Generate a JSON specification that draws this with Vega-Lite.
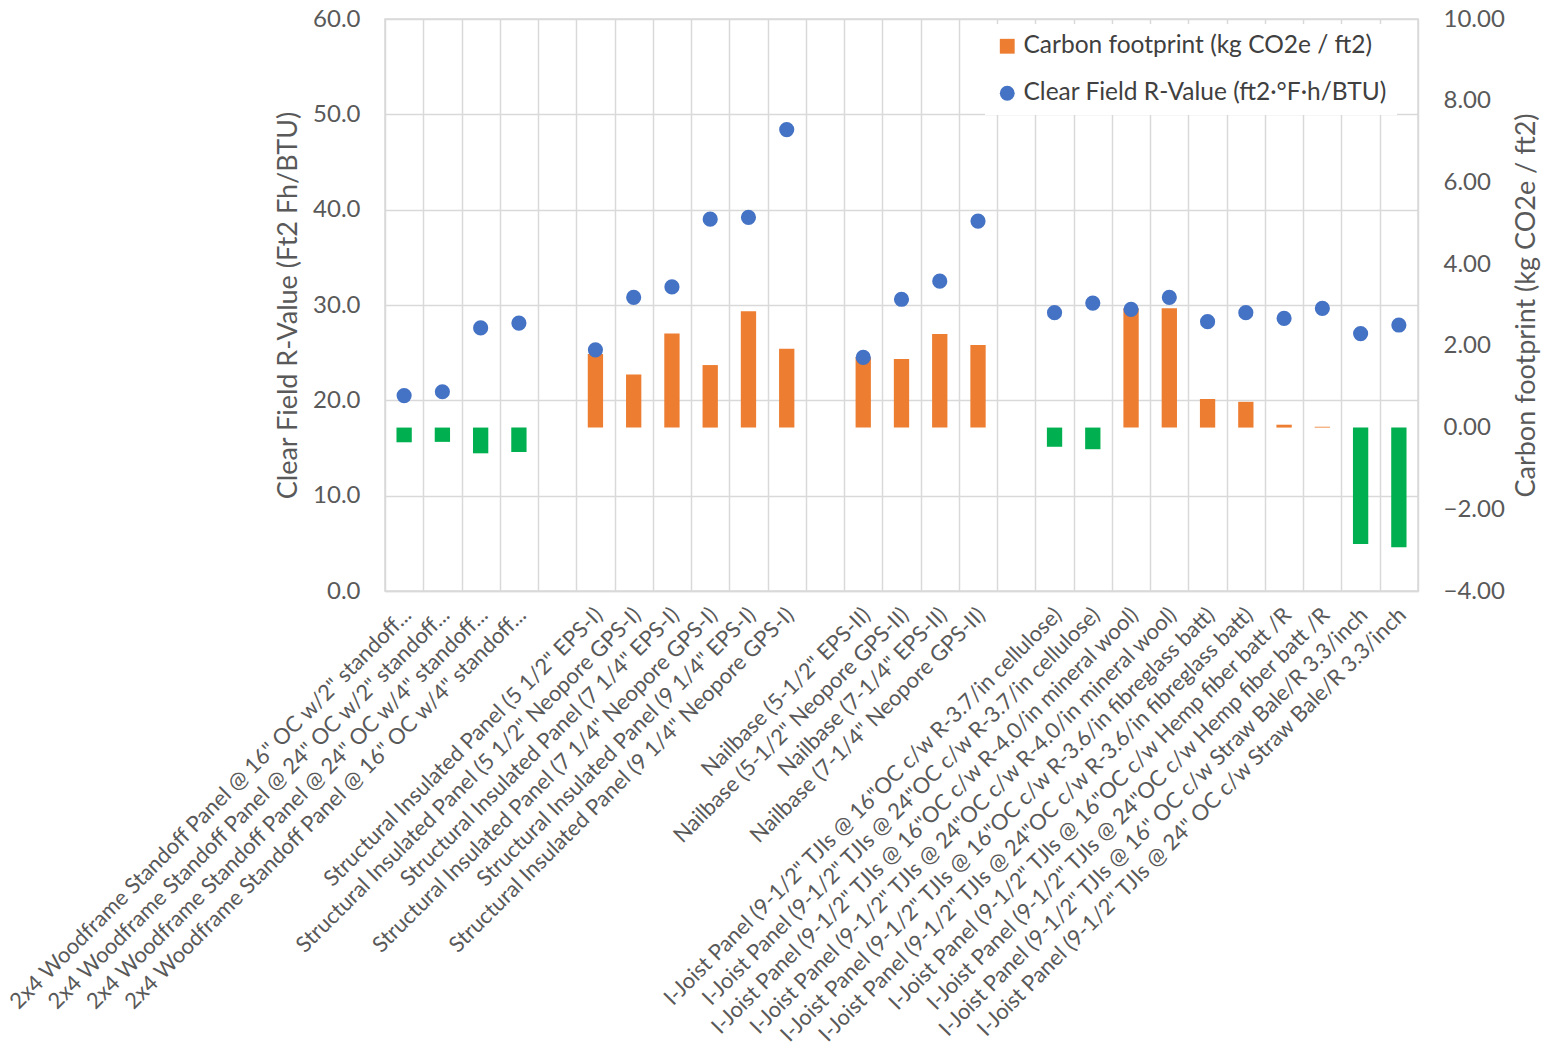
{
  "$schema": "https://vega.github.io/schema/vega-lite/v6.json",
  "width": 1033,
  "height": 572,
  "autosize": {"type": "none"},
  "padding": {"left": 385, "top": 19, "right": 137, "bottom": 460},
  "background": "white",
  "config": {
    "font": "Lato",
    "view": {"stroke": "#d9d9d9", "strokeWidth": 1.5},
    "axis": {"labelColor": "#595959", "titleColor": "#595959", "labelFont": "Lato", "titleFont": "Lato", "titleFontWeight": "normal", "gridColor": "#d9d9d9", "gridWidth": 1.5}
  },
  "data": {
    "values": [
      {"name": "2x4 Woodframe Standoff Panel @ 16\" OC w/2\" standoff...", "rvalue": 20.5, "carbon": -0.36},
      {"name": "2x4 Woodframe Standoff Panel @ 24\" OC w/2\" standoff...", "rvalue": 20.9, "carbon": -0.35},
      {"name": "2x4 Woodframe Standoff Panel @ 24\" OC w/4\" standoff...", "rvalue": 27.6, "carbon": -0.63},
      {"name": "2x4 Woodframe Standoff Panel @ 16\" OC w/4\" standoff...", "rvalue": 28.1, "carbon": -0.6},
      {"name": "Structural Insulated Panel (5 1/2\" EPS-I)", "rvalue": 25.3, "carbon": 1.8},
      {"name": "Structural Insulated Panel (5 1/2\" Neopore GPS-I)", "rvalue": 30.8, "carbon": 1.3},
      {"name": "Structural Insulated Panel (7 1/4\" EPS-I)", "rvalue": 31.9, "carbon": 2.3},
      {"name": "Structural Insulated Panel (7 1/4\" Neopore GPS-I)", "rvalue": 39.0, "carbon": 1.53},
      {"name": "Structural Insulated Panel (9 1/4\" EPS-I)", "rvalue": 39.2, "carbon": 2.85},
      {"name": "Structural Insulated Panel (9 1/4\" Neopore GPS-I)", "rvalue": 48.4, "carbon": 1.93},
      {"name": "Nailbase (5-1/2\" EPS-II)", "rvalue": 24.5, "carbon": 1.73},
      {"name": "Nailbase (5-1/2\" Neopore GPS-II)", "rvalue": 30.6, "carbon": 1.68},
      {"name": "Nailbase (7-1/4\" EPS-II)", "rvalue": 32.5, "carbon": 2.29},
      {"name": "Nailbase (7-1/4\" Neopore GPS-II)", "rvalue": 38.8, "carbon": 2.02},
      {"name": "I-Joist Panel (9-1/2\" TJIs @ 16\"OC c/w R-3.7/in cellulose)", "rvalue": 29.2, "carbon": -0.47},
      {"name": "I-Joist Panel (9-1/2\" TJIs @ 24\"OC c/w R-3.7/in cellulose)", "rvalue": 30.2, "carbon": -0.53},
      {"name": "I-Joist Panel (9-1/2\" TJIs @ 16\"OC c/w R-4.0/in mineral wool)", "rvalue": 29.55, "carbon": 2.92},
      {"name": "I-Joist Panel (9-1/2\" TJIs @ 24\"OC c/w R-4.0/in mineral wool)", "rvalue": 30.8, "carbon": 2.92},
      {"name": "I-Joist Panel (9-1/2\" TJIs @ 16\"OC c/w R-3.6/in fibreglass batt)", "rvalue": 28.25, "carbon": 0.7},
      {"name": "I-Joist Panel (9-1/2\" TJIs @ 24\"OC c/w R-3.6/in fibreglass batt)", "rvalue": 29.2, "carbon": 0.63},
      {"name": "I-Joist Panel (9-1/2\" TJIs @ 16\"OC c/w Hemp fiber batt /R", "rvalue": 28.6, "carbon": 0.07},
      {"name": "I-Joist Panel (9-1/2\" TJIs @ 24\"OC c/w Hemp fiber batt /R", "rvalue": 29.65, "carbon": 0.02},
      {"name": "I-Joist Panel  (9-1/2\" TJIs @ 16\" OC c/w Straw Bale/R 3.3/inch", "rvalue": 27.0, "carbon": -2.85},
      {"name": "I-Joist Panel  (9-1/2\" TJIs @ 24\" OC c/w Straw Bale/R 3.3/inch", "rvalue": 27.9, "carbon": -2.93}
    ]
  },
  "encoding": {
    "x": {
      "field": "name",
      "type": "nominal",
      "scale": {
        "domain": [
          "2x4 Woodframe Standoff Panel @ 16\" OC w/2\" standoff...",
          "2x4 Woodframe Standoff Panel @ 24\" OC w/2\" standoff...",
          "2x4 Woodframe Standoff Panel @ 24\" OC w/4\" standoff...",
          "2x4 Woodframe Standoff Panel @ 16\" OC w/4\" standoff...",
          " ",
          "Structural Insulated Panel (5 1/2\" EPS-I)",
          "Structural Insulated Panel (5 1/2\" Neopore GPS-I)",
          "Structural Insulated Panel (7 1/4\" EPS-I)",
          "Structural Insulated Panel (7 1/4\" Neopore GPS-I)",
          "Structural Insulated Panel (9 1/4\" EPS-I)",
          "Structural Insulated Panel (9 1/4\" Neopore GPS-I)",
          "  ",
          "Nailbase (5-1/2\" EPS-II)",
          "Nailbase (5-1/2\" Neopore GPS-II)",
          "Nailbase (7-1/4\" EPS-II)",
          "Nailbase (7-1/4\" Neopore GPS-II)",
          "   ",
          "I-Joist Panel (9-1/2\" TJIs @ 16\"OC c/w R-3.7/in cellulose)",
          "I-Joist Panel (9-1/2\" TJIs @ 24\"OC c/w R-3.7/in cellulose)",
          "I-Joist Panel (9-1/2\" TJIs @ 16\"OC c/w R-4.0/in mineral wool)",
          "I-Joist Panel (9-1/2\" TJIs @ 24\"OC c/w R-4.0/in mineral wool)",
          "I-Joist Panel (9-1/2\" TJIs @ 16\"OC c/w R-3.6/in fibreglass batt)",
          "I-Joist Panel (9-1/2\" TJIs @ 24\"OC c/w R-3.6/in fibreglass batt)",
          "I-Joist Panel (9-1/2\" TJIs @ 16\"OC c/w Hemp fiber batt /R",
          "I-Joist Panel (9-1/2\" TJIs @ 24\"OC c/w Hemp fiber batt /R",
          "I-Joist Panel  (9-1/2\" TJIs @ 16\" OC c/w Straw Bale/R 3.3/inch",
          "I-Joist Panel  (9-1/2\" TJIs @ 24\" OC c/w Straw Bale/R 3.3/inch"
        ],
        "paddingInner": 0,
        "paddingOuter": 0
      },
      "axis": {
        "title": null,
        "labelAngle": -45,
        "labelAlign": "right",
        "labelBaseline": "middle",
        "labelFontSize": 22,
        "labelLimit": 800,
        "labelPadding": 20,
        "labelOffset": 3,
        "ticks": false,
        "grid": true,
        "tickBand": "extent",
        "domainColor": "#d9d9d9",
        "domainWidth": 1.5
      }
    }
  },
  "layer": [
    {
      "mark": {"type": "bar", "width": {"band": 0.4}},
      "encoding": {
        "y": {
          "field": "carbon",
          "type": "quantitative",
          "scale": {"domain": [-4, 10], "nice": false},
          "axis": {
            "orient": "right",
            "title": "Carbon footprint (kg CO2e / ft2)",
            "titleFontSize": 27,
            "titleAngle": 270,
            "titleBaseline": "top",
            "titlePadding": 9,
            "labelFontSize": 24,
            "labelPadding": 25,
            "values": [-4, -2, 0, 2, 4, 6, 8, 10],
            "format": ".2f",
            "grid": false,
            "ticks": false,
            "domain": false
          }
        },
        "color": {
          "condition": {"test": "datum.carbon < 0", "value": "#00B050"},
          "datum": "Carbon footprint (kg CO2e / ft2)",
          "type": "nominal",
          "scale": {
            "domain": ["Carbon footprint (kg CO2e / ft2)", "Clear Field R-Value (ft2·°F·h/BTU)"],
            "range": ["#ED7D31", "#4472C4"]
          },
          "legend": {
            "title": null,
            "orient": "none",
            "legendX": 600,
            "legendY": 5,
            "fillColor": "white",
            "padding": 10,
            "labelFontSize": 24.5,
            "labelFont": "Lato",
            "labelColor": "#404040",
            "labelLimit": 500,
            "labelOffset": 4,
            "symbolSize": 220,
            "rowPadding": 22,
            "encode": {
              "symbols": {
                "update": {
                  "shape": {"signal": "datum.value === 'Carbon footprint (kg CO2e / ft2)' ? 'square' : 'circle'"},
                  "fill": {"scale": "color", "field": "value"},
                  "fillOpacity": {"value": 1},
                  "strokeWidth": {"value": 0}
                }
              }
            }
          }
        }
      }
    },
    {
      "mark": {"type": "point", "filled": true, "opacity": 1, "size": 230},
      "encoding": {
        "y": {
          "field": "rvalue",
          "type": "quantitative",
          "scale": {"domain": [0, 60], "nice": false},
          "axis": {
            "orient": "left",
            "title": "Clear Field R-Value (Ft2 Fh/BTU)",
            "titleFontSize": 27,
            "titlePadding": 10,
            "labelFontSize": 24,
            "labelPadding": 25,
            "values": [0, 10, 20, 30, 40, 50, 60],
            "format": ".1f",
            "grid": true,
            "ticks": false,
            "domain": false
          }
        },
        "color": {"datum": "Clear Field R-Value (ft2·°F·h/BTU)", "type": "nominal"}
      }
    }
  ],
  "resolve": {"scale": {"y": "independent"}}
}
